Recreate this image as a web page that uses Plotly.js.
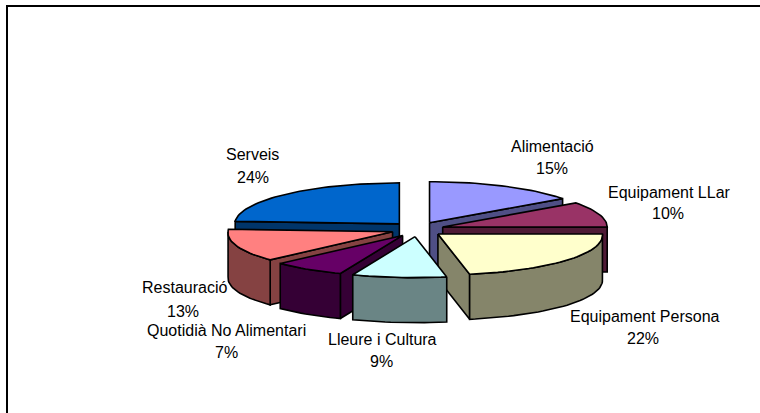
<!DOCTYPE html>
<html>
<head>
<meta charset="utf-8">
<script src="https://cdn.plot.ly/plotly-3.0.1.min.js"></script>
<style>html,body{margin:0;padding:0;background:#fff;overflow:hidden}</style>
</head>
<body>
<div id="chart" style="width:760px;height:413px"></div>
<script>
// Data, clockwise from 12 o'clock
const categories = ["Alimentació", "Equipament LLar", "Equipament Persona", "Lleure i Cultura", "Quotidià No Alimentari", "Restauració", "Serveis"];
const values = [15, 10, 22, 9, 7, 13, 24];

// Styles
const topColors = ["#9999FF", "#993366", "#FFFFCC", "#CCFFFF", "#660066", "#FF8080", "#0066CC"];
const wallColors = ["#4F4F85", "#4F1A35", "#85856A", "#6A8585", "#350035", "#854242", "#00356A"];
const drawOrder = [6, 0, 1, 5, 4, 2, 3];
const labelCenters = [[552,146,552,168],[669,192,668,213],[645,316,643,338],[382,339,381,361],[226.5,330,226,352],[184,287,183,311],[252,154,253,177]];

// Pie geometry
const cx = 417.5, cy = 229.3, rx = 164.5, ry = 41, depth = 45, explodeX = 26.5, explodeY = 7.4, persp = 0.03;
const total = values.reduce((a, b) => a + b, 0);
const rad = d => d * Math.PI / 180;
const rimX = (ax, a) => ax + rx * Math.sin(a) * (1 + persp * Math.max(0, -Math.cos(a)));
const rimY = (ay, a) => ay - ry * Math.cos(a);

function poly(xs, ys, fill) {
  return {type: "scatter", mode: "lines", x: xs.concat(xs[0]), y: ys.concat(ys[0]), fill: "toself",
    fillcolor: fill, line: {color: "#000", width: 1.6}, hoverinfo: "skip", showlegend: false};
}
function arc(ax, ay, a0, a1, dy) {
  const xs = [], ys = [], n = Math.max(2, Math.ceil((a1 - a0) / 2));
  for (let k = 0; k <= n; k++) {
    const a = rad(a0 + (a1 - a0) * k / n);
    xs.push(rimX(ax, a)); ys.push(rimY(ay, a) + dy);
  }
  return [xs, ys];
}

let acc = 0;
const slices = values.map(v => { const s = {a0: acc / total * 360, a1: (acc + v) / total * 360}; acc += v; return s; });

const traces = [];
drawOrder.forEach(i => {
  const {a0, a1} = slices[i], mid = rad((a0 + a1) / 2);
  const ax = cx + explodeX * Math.sin(mid), ay = cy - explodeY * Math.cos(mid);
  const wall = wallColors[i];
  // cut faces turned towards the viewer
  [[a0, a0 > 180 && a0 < 360], [a1, a1 > 0 && a1 <= 180]].forEach(([a, show]) => {
    if (!show) return;
    const ex = rimX(ax, rad(a)), ey = rimY(ay, rad(a));
    traces.push(poly([ax, ex, ex, ax], [ay, ey, ey + depth, ay + depth], wall));
  });
  // outer wall, front half only
  const w0 = Math.max(a0, 90), w1 = Math.min(a1, 270);
  if (w1 > w0) {
    const [tx, ty] = arc(ax, ay, w0, w1, 0), [bx, by] = arc(ax, ay, w0, w1, depth);
    traces.push(poly(tx.concat(bx.reverse()), ty.concat(by.reverse()), wall));
  }
  // top face
  const [tx, ty] = arc(ax, ay, a0, a1, 0);
  traces.push(poly([ax].concat(tx), [ay].concat(ty), topColors[i]));
});

const font = {family: "Liberation Sans, Arial, sans-serif", size: 16, color: "#000"};
const annotations = [];
categories.forEach((c, i) => {
  const p = labelCenters[i];
  const pct = Math.round(values[i] / total * 100) + "%";
  annotations.push({x: p[0], y: p[1], text: c, showarrow: false, font, xanchor: "center", yanchor: "middle"});
  annotations.push({x: p[2], y: p[3], text: pct, showarrow: false, font, xanchor: "center", yanchor: "middle"});
});

const layout = {
  width: 760, height: 413, margin: {l: 0, r: 0, t: 0, b: 0},
  paper_bgcolor: "#fff", plot_bgcolor: "#fff", showlegend: false,
  xaxis: {range: [0, 760], visible: false, fixedrange: true},
  yaxis: {range: [413, 0], visible: false, fixedrange: true},
  annotations,
  shapes: [
    {type: "line", xref: "x", yref: "y", x0: 6, x1: 760, y0: 6, y1: 6, line: {color: "#000", width: 2}},
    {type: "line", xref: "x", yref: "y", x0: 7, x1: 7, y0: 5, y1: 413, line: {color: "#000", width: 2}}
  ]
};
Plotly.newPlot("chart", traces, layout, {displayModeBar: false, staticPlot: true});
</script>
</body>
</html>
